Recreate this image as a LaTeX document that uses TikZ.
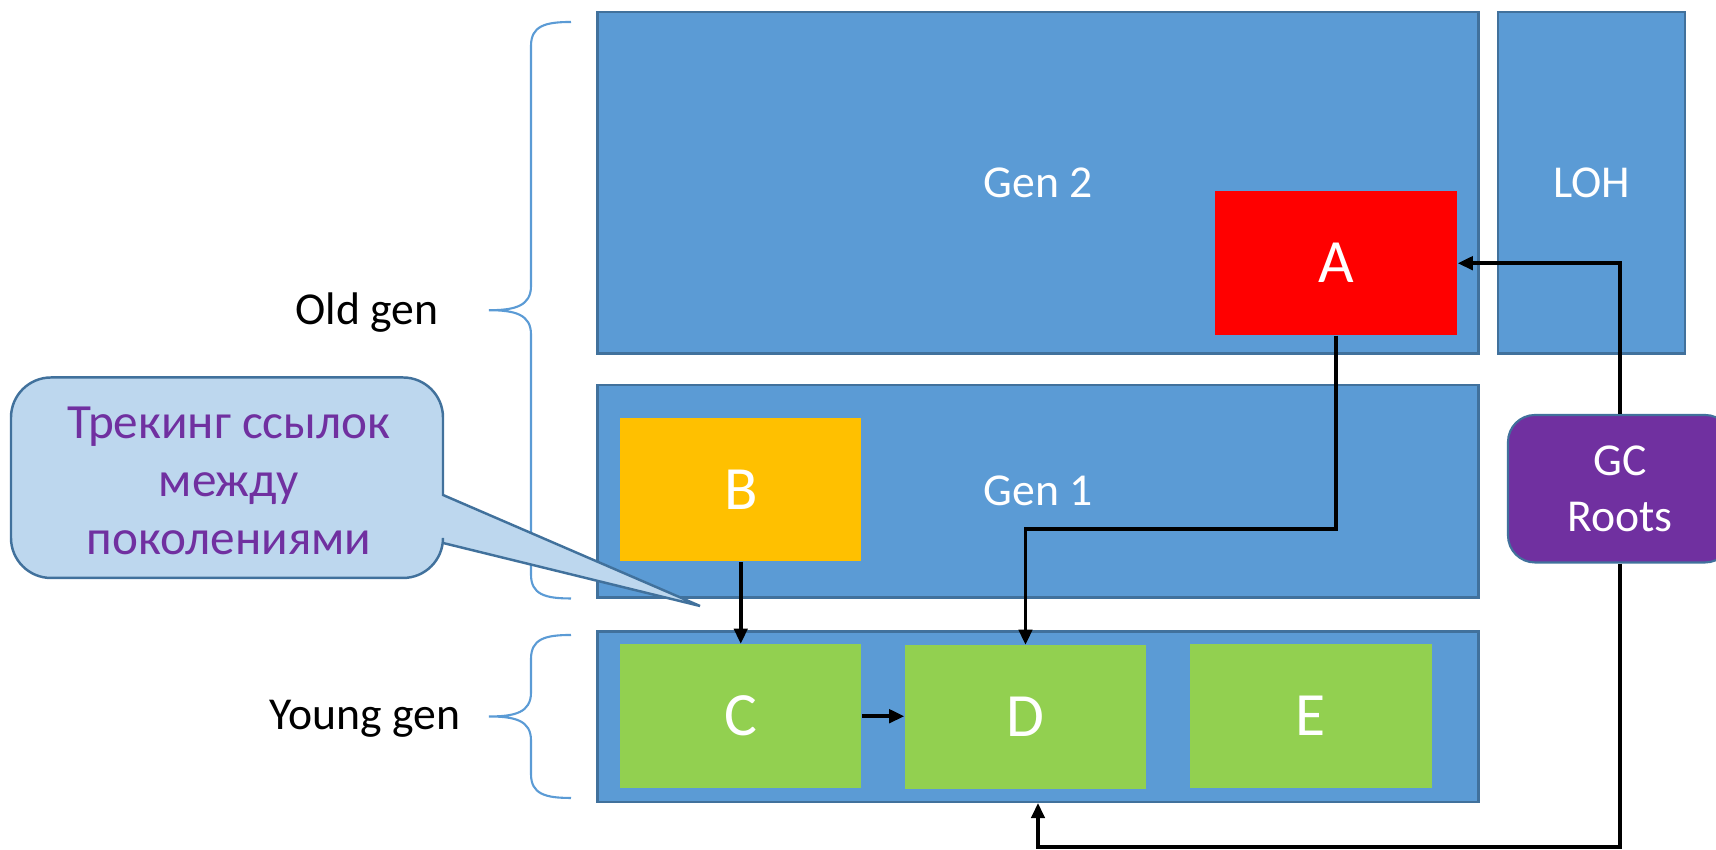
\documentclass[tikz,border=0pt]{standalone}
\usepackage{fontspec}
\setmainfont{Carlito}
\usetikzlibrary{arrows.meta,positioning,calc}
\definecolor{HeapBlue}{RGB}{91,155,213}
\definecolor{HeapEdge}{RGB}{65,113,156}
\definecolor{ObjRed}{RGB}{255,0,0}
\definecolor{ObjGold}{RGB}{255,192,0}
\definecolor{ObjGreen}{RGB}{146,208,80}
\definecolor{RootPurple}{RGB}{112,48,160}
\definecolor{NoteFill}{RGB}{189,215,238}
\tikzset{
  gc/heap/.style={
    draw=HeapEdge,
    line width=0.6pt,
    fill=HeapBlue,
    text=white,
    inner sep=0pt,
    font=\fontsize{13}{16}\selectfont
  },
  gc/obj/.style={
    inner sep=0pt,
    text=white,
    minimum width=2.41cm,
    minimum height=1.435cm,
    font=\fontsize{17.5}{20}\selectfont
  },
  gc/root/.style={
    draw=HeapEdge,
    line width=0.6pt,
    fill=RootPurple,
    rounded corners=0.27cm,
    text=white,
    align=center,
    inner sep=0pt,
    font=\fontsize{13}{16}\selectfont
  },
  gc/note/.style={draw=HeapEdge, line width=0.7pt, fill=NoteFill},
  gc/notetext/.style={text=RootPurple, align=center, font=\fontsize{14}{16.5}\selectfont},
  gc/label/.style={text=black, font=\fontsize{13}{16}\selectfont},
  gc/brace/.style={draw=HeapBlue, line width=0.6pt},
  gc/ref/.style={-{Triangle[length=4.3pt,width=3.8pt]}, line width=1pt, draw=black}
}

\begin{document}
\begin{tikzpicture}[x=1cm,y=1cm]
  \useasboundingbox (0,0) rectangle (17.16,8.5);

  % heap regions
  \node[gc/heap,minimum width=8.81cm,minimum height=3.415cm] (gen2) at (10.38,6.6725) {Gen 2};
  \node[gc/heap,minimum width=1.87cm,minimum height=3.415cm] (loh) at (15.915,6.6725) {LOH};
  \node[gc/heap,minimum width=8.81cm,minimum height=2.125cm] (gen1) at (10.38,3.5875) {Gen 1};
  \node[gc/heap,minimum width=8.81cm,minimum height=1.705cm] (young) at (10.38,1.3325) {};

  % objects
  \node[gc/obj,fill=ObjRed,minimum width=2.42cm] (A) at (13.36,5.8675) {A};
  \node[gc/obj,fill=ObjGold] (B) at (7.4075,3.605) {B};
  \node[gc/obj,fill=ObjGreen] (C) at (7.4075,1.3375) {C};
  \node[gc/obj,fill=ObjGreen] (D) at (10.255,1.3275) {D};
  \node[gc/obj,fill=ObjGreen,minimum width=2.42cm] (E) at (13.105,1.3375) {E};

  \node[gc/root,minimum width=2.24cm,minimum height=1.475cm] (roots) at (16.20,3.6125) {GC\\Roots};

  % generation braces
  \draw[gc/brace] (5.71,8.28) .. controls (5.45,8.28) and (5.31,8.24) .. (5.31,8.04)
    -- (5.31,5.64) .. controls (5.31,5.44) and (5.15,5.3975) .. (4.89,5.3975)
    .. controls (5.15,5.3975) and (5.31,5.355) .. (5.31,5.155)
    -- (5.31,2.755) .. controls (5.31,2.555) and (5.45,2.515) .. (5.71,2.515);
  \draw[gc/brace] (5.71,2.15) .. controls (5.45,2.15) and (5.31,2.11) .. (5.31,1.91)
    -- (5.31,1.575) .. controls (5.31,1.375) and (5.15,1.335) .. (4.89,1.335)
    .. controls (5.15,1.335) and (5.31,1.295) .. (5.31,1.095)
    -- (5.31,0.76) .. controls (5.31,0.56) and (5.45,0.52) .. (5.71,0.52);
  \node[gc/label] (oldlbl) at (3.67,5.37) {Old gen};
  \node[gc/label] (younglbl) at (3.65,1.31) {Young gen};

  % callout
  \draw[gc/note] (4.43,3.55) -- (4.43,4.325) arc[start angle=0,end angle=90,radius=0.4]
    -- (0.51,4.725) arc[start angle=90,end angle=180,radius=0.4]
    -- (0.11,3.12) arc[start angle=180,end angle=270,radius=0.4]
    -- (4.03,2.72) arc[start angle=270,end angle=360,radius=0.4]
    -- (4.43,3.07) -- (7.0,2.44) -- cycle;
  \node[gc/notetext] (note) at (2.29,3.69) {Трекинг ссылок\\между\\поколениями};

  % references
  \draw[gc/ref] (B.south) -- (C.north);
  \draw[gc/ref] (C.east) -- (C.east -| D.west);
  \draw[gc/ref] (A.south) -- ++(0,-1.935) -| (D.north);
  \draw[gc/ref] (roots.north) |- (A.east);
  \draw[gc/ref] (roots.south) -- ++(0,-2.835) -| (young.south);
\end{tikzpicture}
\end{document}
